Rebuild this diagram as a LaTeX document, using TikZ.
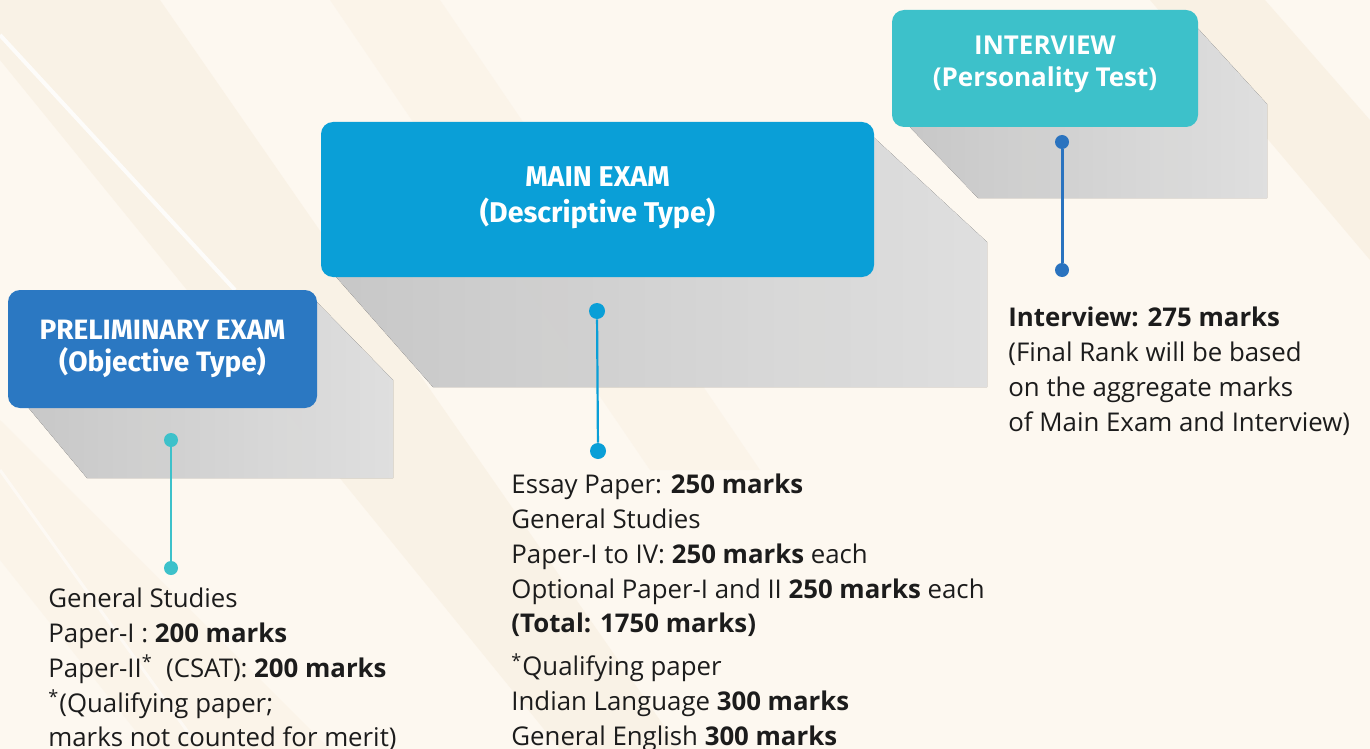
\documentclass[tikz,border=0pt]{standalone}
\usepackage{fontspec}
\setmainfont{Open Sans}
\newfontfamily\headfont{Fira Sans}
\usetikzlibrary{positioning}

\definecolor{cream}{HTML}{FDF8F0}
\definecolor{band tan}{HTML}{F3E5CF}
\definecolor{prelim blue}{HTML}{2B78C2}
\definecolor{main blue}{HTML}{0A9FD7}
\definecolor{interview teal}{HTML}{3DC1CA}
\definecolor{interview dot}{HTML}{2A73BF}
\definecolor{body text}{HTML}{1C1C1C}

\begin{document}
\begin{tikzpicture}[
            x=0.5pt,y=-0.5pt,
            every node/.style={inner sep=0pt},
            stage box/.style={rectangle,rounded corners=6pt},
            stage title/.style={text=white,align=center},
            stage shadow/.style={left color=black!14,right color=black!4},
            dot/.style={circle,minimum size=7pt},
            marks text/.style={anchor=north west,align=left,text=body text,
                font=\fontsize{12.9pt}{17.4pt}\selectfont}
        ]
        % background
        \fill[cream] (0,0) rectangle (1370,749);
        \useasboundingbox (0,0) rectangle (1370,749);
        \fill[band tan,opacity=.3] (0,0) -- (160,0) -- (420,375) -- (680,749) -- (560,749) -- (0,60) -- cycle;
        \fill[band tan,opacity=.2] (330,0) -- (440,0) -- (760,470) -- (650,470) -- cycle;
        \fill[band tan,opacity=.35] (1150,0) -- (1265,0) -- (1370,120) -- (1370,260) -- cycle;
        \fill[band tan,opacity=.2] (0,420) -- (0,560) -- (150,749) -- (330,749) -- cycle;
        \draw[white,line width=2pt,opacity=.8] (0,35) -- (235,290);
        \draw[white,line width=1.5pt,opacity=.5] (0,470) -- (200,749);

        % shadows
        \fill[stage shadow,opacity=.9] (22,400) -- (310,295) -- (393,380) -- (393,478) -- (87,478) -- cycle;
        \fill[stage shadow,opacity=.9] (330,270) -- (868,132) -- (987,242) -- (987,387) -- (433,387) -- cycle;
        \fill[stage shadow,opacity=.9] (905,122) -- (1192,22) -- (1267,104) -- (1267,198) -- (978,198) -- cycle;

        % stages
        \node[stage box,fill=prelim blue,minimum width=154.5pt,minimum height=59pt]
            (prelim box) at (162.5,349) {};
        \node[stage title,font=\headfont\bfseries\fontsize{14pt}{16pt}\selectfont]
            (prelim title) at (prelim box.center) {PRELIMINARY EXAM\\(Objective Type)};
        \node[stage box,fill=main blue,minimum width=276.5pt,minimum height=77.5pt]
            (main box) at (597.5,199.5) {};
        \node[stage title,font=\headfont\bfseries\fontsize{14.3pt}{18pt}\selectfont]
            (main title) at ([yshift=1pt]main box.center) {MAIN EXAM\\(Descriptive Type)};
        \node[stage box,fill=interview teal,minimum width=153pt,minimum height=58.5pt]
            (interview box) at (1045,68.5) {};
        \node[stage title,font=\bfseries\fontsize{13pt}{16pt}\selectfont]
            (interview title) at ([yshift=2pt]interview box.center) {INTERVIEW\\(Personality Test)};

        % connectors
        \node[dot,fill=interview teal] (prelim top dot) at (171,440) {};
        \node[dot,fill=interview teal] (prelim bottom dot) at (171,568) {};
        \draw[interview teal,line width=1.2pt] (prelim top dot) -- (prelim bottom dot);
        \node[dot,fill=main blue,minimum size=8pt] (main top dot) at (597,311) {};
        \node[dot,fill=main blue,minimum size=8pt] (main bottom dot) at (598,451) {};
        \draw[main blue,line width=1.1pt] (main top dot) -- (main bottom dot);
        \node[dot,fill=interview dot] (interview top dot) at (1062,142) {};
        \node[dot,fill=interview dot] (interview bottom dot) at (1062,270) {};
        \draw[interview dot,line width=1.5pt] (interview top dot) -- (interview bottom dot);

        % marks
        \node[marks text] (prelim marks) at (48,583) {\strut General Studies\\
            Paper-I : \textbf{200 marks}\\
            Paper-II\textsuperscript{*}\ \ (CSAT): \textbf{200 marks}\\
            \textsuperscript{*}(Qualifying paper;\\
            marks not counted for merit)};
        \node[marks text] (main marks) at (511,469) {\strut Essay Paper: \textbf{250 marks}\\
            General Studies\\
            Paper-I to IV: \textbf{250 marks} each\\
            Optional Paper-I and II \textbf{250 marks} each\\
            \textbf{(Total: 1750 marks)}\\[4pt]
            \textsuperscript{*}Qualifying paper\\
            Indian Language \textbf{300 marks}\\
            General English \textbf{300 marks}};
        \node[marks text] (interview marks) at (1008,302) {\strut\textbf{Interview: 275 marks}\\
            (Final Rank will be based\\
            on the aggregate marks\\
            of Main Exam and Interview)};
    \end{tikzpicture}
\end{document}
